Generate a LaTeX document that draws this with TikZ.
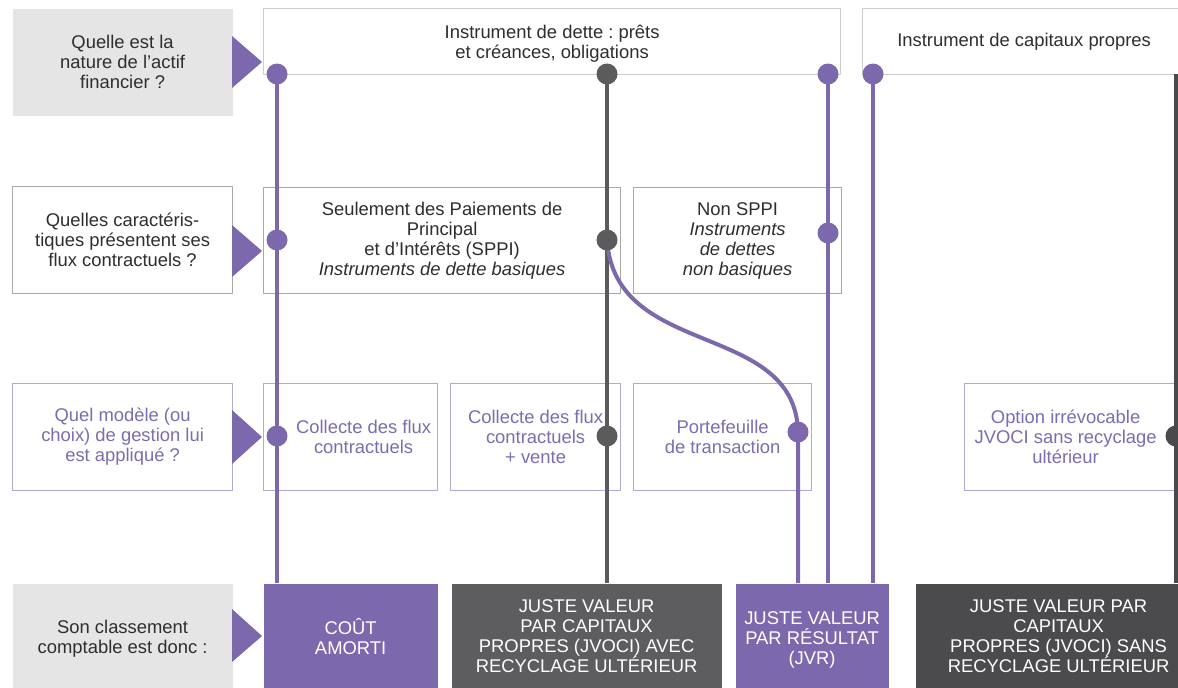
\documentclass[tikz,border=0pt]{standalone}
\usepackage{fontspec}
\setmainfont{Liberation Sans}
\definecolor{pur}{HTML}{7B68AD}
\definecolor{lilac}{HTML}{B3AAD3}
\definecolor{ptxt}{HTML}{7D6CB0}
\definecolor{dline}{HTML}{5B5B5D}
\definecolor{dline2}{HTML}{4A4A4C}
\definecolor{dbox}{HTML}{5D5D5F}
\definecolor{dbox2}{HTML}{4B4B4D}
\definecolor{lgrey}{HTML}{E5E5E6}
\definecolor{bgrey}{HTML}{CDCDCD}
\definecolor{bgrey2}{HTML}{A8A8A8}
\definecolor{txt}{HTML}{2E2E2E}
\pgfdeclarelayer{boxes}
\pgfdeclarelayer{lines}
\pgfsetlayers{boxes,lines,main}
\frenchspacing
\begin{document}
\frenchspacing
\begin{tikzpicture}[x=1pt,y=-1pt,
  every node/.style={font=\fontsize{18.4}{20}\selectfont, text=txt, inner sep=0pt, align=center},
  bx/.style={anchor=north west, fill=white, line width=1.2pt},
  qgrey/.style={bx, fill=lgrey, minimum width=220pt},
  topbox/.style={bx, draw=bgrey, minimum height=66pt},
  midbox/.style={bx, draw=bgrey2, minimum height=106pt},
  modbox/.style={bx, draw=lilac, minimum height=107pt, text=ptxt},
  resbox/.style={bx, minimum height=105pt, text=white},
  pdot/.style={circle, fill=pur, minimum size=21pt},
  gdot/.style={circle, fill=dline, minimum size=21pt},
  kdot/.style={circle, fill=dline2, minimum size=21pt},
  pline/.style={draw=pur, line width=4pt},
  gline/.style={draw=dline, line width=4pt},
  kline/.style={draw=dline2, line width=4pt},
  arrowtri/.style={fill=pur}
]
\useasboundingbox (0,0) rectangle (1178,688);
\begin{pgfonlayer}{boxes}
% question column
\node[qgrey, minimum height=107pt] (q1) at (12,8) {Quelle est la\\nature de l’actif\\financier ?};
\node[qgrey, fill=white, draw=bgrey2, minimum height=107pt] (q2) at (12,186) {Quelles caractéris-\\tiques présentent ses\\flux contractuels ?};
\node[qgrey, fill=white, draw=lilac, text=ptxt, minimum height=107pt] (q3) at (12,383) {Quel modèle (ou\\choix) de gestion lui\\est appliqué ?};
\node[qgrey, minimum height=110pt] (q4) at (12,583) {Son classement\\comptable est donc :};
% row 1
\node[topbox, minimum width=577pt, label={[yshift=-2pt]center:{Instrument de dette : prêts\\et créances, obligations}}] (t1) at (263,8) {};
\node[topbox, minimum width=323pt] (t2) at (862,8) {Instrument de capitaux propres};
% row 2
\node[midbox, minimum width=357pt] (s1) at (263,187) {Seulement des Paiements de\\Principal\\et d’Intérêts (SPPI)\\\textit{Instruments de dette basiques}};
\node[midbox, minimum width=208pt] (s2) at (633,187) {Non SPPI\\\textit{Instruments}\\\textit{de dettes}\\\textit{non basiques}};
% row 3
\node[modbox, minimum width=174pt, label={[xshift=13pt, text=ptxt]center:{Collecte des flux\\contractuels}}] (m1) at (263,383) {};
\node[modbox, minimum width=170pt] (m2) at (450,383) {Collecte des flux\\contractuels\\+ vente};
\node[modbox, minimum width=178pt] (m3) at (633,383) {Portefeuille\\de transaction};
\node[modbox, minimum width=240pt, label={[xshift=-19pt, text=ptxt]center:{Option irrévocable\\JVOCI sans recyclage\\ultérieur}}] (m4) at (964,383) {};
% row 4
\node[resbox, fill=pur, minimum width=174pt] (r1) at (263,583) {COÛT\\AMORTI};
\node[resbox, fill=dbox, minimum width=270pt] (r2) at (451,583) {JUSTE VALEUR\\PAR CAPITAUX\\PROPRES (JVOCI) AVEC\\RECYCLAGE ULTÉRIEUR};
\node[resbox, fill=pur, minimum width=153pt, label={[yshift=-4pt, text=white]center:{JUSTE VALEUR\\PAR RÉSULTAT\\(JVR)}}] (r3) at (735,583) {};
\node[resbox, fill=dbox2, minimum width=286pt] (r4) at (915,583) {JUSTE VALEUR PAR\\CAPITAUX\\PROPRES (JVOCI) SANS\\RECYCLAGE ULTÉRIEUR};
% arrow triangles
\fill[arrowtri] (232,36) -- (262,62) -- (232,88) -- cycle;
\fill[arrowtri] (232,225) -- (262,251) -- (232,277) -- cycle;
\fill[arrowtri] (232,410) -- (262,437) -- (232,464) -- cycle;
\fill[arrowtri] (232,609) -- (262,636) -- (232,662) -- cycle;
\end{pgfonlayer}
% dots
\node[pdot] (a1) at (277,74) {};
\node[pdot] (a2) at (277,240) {};
\node[pdot] (a3) at (277,436) {};
\node[gdot] (b1) at (607,74) {};
\node[gdot] (b2) at (607,240) {};
\node[gdot] (b3) at (607,436) {};
\node[pdot] (c3) at (798,432) {};
\node[pdot] (d1) at (828,74) {};
\node[pdot] (d2) at (828,233) {};
\node[pdot] (e1) at (873,74) {};
\node[kdot] (f3) at (1176,436) {};
\coordinate (f1) at (1176,74);
\begin{pgfonlayer}{lines}
\draw[pline] (a1.center) -- (a1 |- r1.north);
\draw[gline] (b1.center) -- (b1 |- r2.north);
\draw[pline] (b2.center) .. controls (615,360) and (795,320) .. (c3.center) -- (c3 |- r3.north);
\draw[pline] (d1.center) -- (d1 |- r3.north);
\draw[pline] (e1.center) -- (e1 |- r3.north);
\draw[kline] (f1) -- (f1 |- r4.north);
\end{pgfonlayer}
\end{tikzpicture}
\end{document}
